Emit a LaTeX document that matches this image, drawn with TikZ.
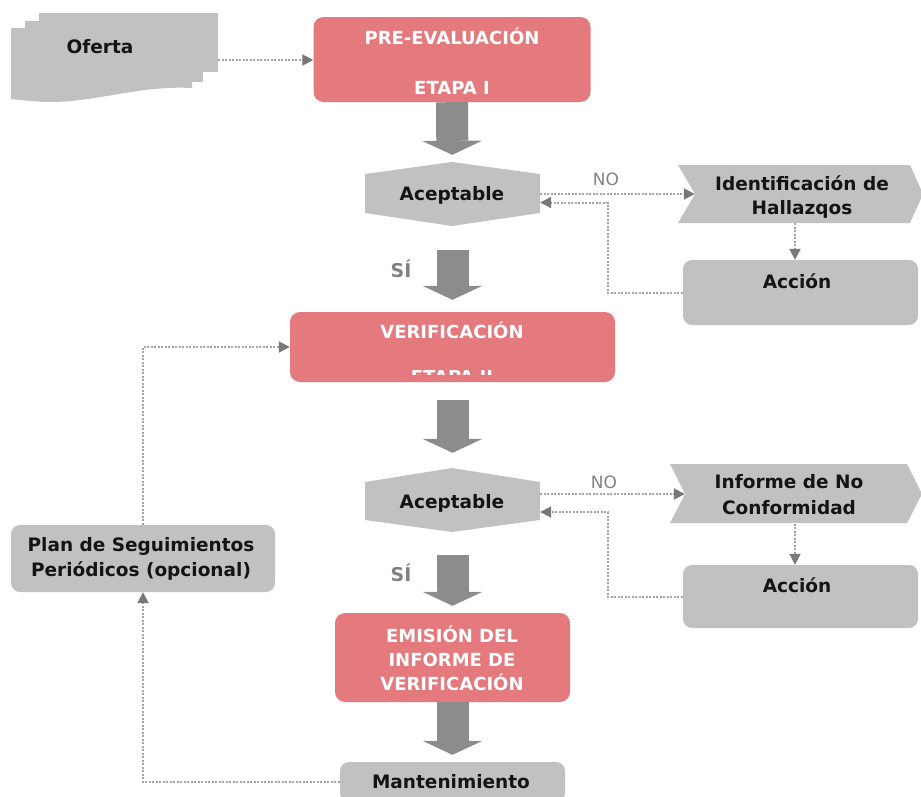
\documentclass[tikz,border=0pt]{standalone}
\usepackage{fontspec}
\setmainfont{DejaVu Sans}
\usetikzlibrary{arrows.meta,calc}
\definecolor{boxred}{RGB}{228,122,126}
\definecolor{boxgray}{RGB}{193,193,193}
\definecolor{fatgray}{RGB}{140,140,140}
\definecolor{dotgray}{RGB}{165,165,165}
\definecolor{tipgray}{RGB}{120,120,120}
\definecolor{labelgray}{RGB}{130,130,130}
\definecolor{inkblack}{RGB}{20,20,20}
\begin{document}
\begin{tikzpicture}[x=1pt,y=-1pt,
  redbox/.style={fill=boxred, rounded corners=10pt, inner sep=0pt},
  graybox/.style={fill=boxgray, rounded corners=9pt, inner sep=0pt},
  ghost/.style={inner sep=0pt},
  redtext/.style={text=white, inner sep=0pt, font=\fontsize{18}{24}\selectfont\bfseries},
  blacktext/.style={text=inkblack, inner sep=0pt, font=\fontsize{18.5}{25}\selectfont\bfseries},
  notag/.style={text=labelgray, inner sep=0pt, font=\fontsize{17}{20}\selectfont},
  sitag/.style={text=labelgray, inner sep=0pt, font=\fontsize{19}{22}\selectfont\bfseries},
  dotline/.style={draw=dotgray, line width=2pt, dash pattern=on 2pt off 1.5pt,
    -{Triangle[length=11pt,width=11pt,color=tipgray]}},
  fatarrow/.style={draw=fatgray, line width=32pt,
    -{Triangle[length=14pt,width=60pt,line width=0pt]}},
]
\useasboundingbox (0,0) rectangle (921,796);

% ---------- Oferta: stack of documents ----------
\fill[boxgray] (39,13) rectangle (218,72);
\fill[boxgray] (25,21) rectangle (203,82);
\fill[boxgray] (11,28) -- (192,28) -- (192,88)
  .. controls (150,86) and (120,95) .. (80,100)
  .. controls (50,104) and (30,101) .. (11,99) -- cycle;
\node[ghost, minimum width=207pt, minimum height=90pt] (oferta) at (114.5,60) {};
\node[blacktext, anchor=base] (oferta-t) at (100,53) {Oferta};

% ---------- Stage I ----------
\node[redbox, minimum width=277pt, minimum height=85pt] (pre) at (452,59.5) {};
\node[redtext, anchor=base] (pre-t1) at (452,44) {PRE-EVALUACIÓN};
\node[redtext, anchor=base] (pre-t2) at (452,94) {ETAPA I};

% first decision
\fill[boxgray] (365,174) -- (452,162) -- (540,174) -- (540,213) -- (452,226) -- (365,213) -- cycle;
\node[ghost, minimum width=175pt, minimum height=39pt] (acc1) at (452.5,193.5) {};
\node[blacktext, anchor=base] (acc1-t) at (452,200) {Aceptable};

% findings
\fill[boxgray] (678,165) -- (910,165) -- (923,194) -- (910,223) -- (678,223) -- (695,194) -- cycle;
\node[ghost, minimum width=200pt, minimum height=58pt] (id1) at (795,194) {};
\node[blacktext, anchor=base] (id1-t1) at (802,190) {Identificación de};
\node[blacktext, anchor=base] (id1-t2) at (802,214) {Hallazqos};

\node[graybox, minimum width=235pt, minimum height=65pt] (act1) at (800.5,292.5) {};
\node[blacktext, anchor=base] (act1-t) at (797,288) {Acción};

% ---------- Stage II ----------
\node[redbox, minimum width=325pt, minimum height=70pt] (ver) at (452.5,347) {};
\node[redtext, anchor=base] (ver-t1) at (452,338) {VERIFICACIÓN};
% stage label: only the top strip of the letters shows
\begin{scope}
  \clip (370,370) rectangle (530,374);
  \node[redtext, anchor=north] (ver-t2) at (452,370) {ETAPA II};
\end{scope}

% second decision
\fill[boxgray] (365,482) -- (452,468) -- (540,482) -- (540,520) -- (452,532) -- (365,520) -- cycle;
\node[ghost, minimum width=175pt, minimum height=38pt] (acc2) at (452.5,501) {};
\node[blacktext, anchor=base] (acc2-t) at (452,508) {Aceptable};

% non-conformity report
\fill[boxgray] (670,464) -- (907,464) -- (922,494) -- (907,523) -- (670,523) -- (685,494) -- cycle;
\node[ghost, minimum width=220pt, minimum height=59pt] (id2) at (795,494) {};
\node[blacktext, anchor=base] (id2-t1) at (789,488) {Informe de No};
\node[blacktext, anchor=base] (id2-t2) at (789,514) {Conformidad};

\node[graybox, minimum width=235pt, minimum height=63pt] (act2) at (800.5,596.5) {};
\node[blacktext, anchor=base] (act2-t) at (797,592) {Acción};

% ---------- report and follow-up ----------
\node[redbox, minimum width=235pt, minimum height=89pt] (emi) at (452.5,657.5) {};
\node[redtext, anchor=base] (emi-t1) at (452,642) {EMISIÓN DEL};
\node[redtext, anchor=base] (emi-t2) at (452,666) {INFORME DE};
\node[redtext, anchor=base] (emi-t3) at (452,690) {VERIFICACIÓN};

\node[graybox, minimum width=225pt, minimum height=40pt] (man) at (452.5,782) {};
\node[blacktext, anchor=base] (man-t) at (451,788) {Mantenimiento};

\node[graybox, minimum width=264pt, minimum height=67pt] (plan) at (143,558.5) {};
\node[blacktext, anchor=base] (plan-t1) at (141,551) {Plan de Seguimientos};
\node[blacktext, anchor=base] (plan-t2) at (141,576) {Periódicos (opcional)};

% ---------- main flow arrows ----------
\draw[fatarrow, shorten >=19pt] (pre.south) -- (acc1.north);
\draw[fatarrow, shorten <=37pt, shorten >=12pt] (acc1.south) -- (ver.north);
\draw[fatarrow, shorten <=18pt, shorten >=29pt] (ver.south) -- (acc2.north);
\draw[fatarrow, shorten <=35pt, shorten >=7pt] (acc2.south) -- (emi.north);
\draw[fatarrow, shorten >=7pt] (emi.south) -- (man.north);

\node[sitag, anchor=base] (si1) at (401,277) {SÍ};
\node[sitag, anchor=base] (si2) at (401,581) {SÍ};

% ---------- dotted side flows ----------
\draw[dotline] (oferta.east) -- (oferta.east -| pre.west);

\draw[dotline] (acc1.east |- id1.west) -- (id1.west);
\node[notag, anchor=base] (no1) at (606,185) {NO};
\draw[dotline] (id1.south) -- (id1.south |- act1.north);
\draw[dotline] (act1.west) -- ++(-75,0) |- ($(acc1.east)+(0,9)$);

\draw[dotline] (acc2.east |- id2.west) -- (id2.west);
\node[notag, anchor=base] (no2) at (604,488) {NO};
\draw[dotline] (id2.south) -- (id2.south |- act2.north);
\draw[dotline] (act2.west) -- ++(-75,0) |- ($(acc2.east)+(0,11)$);

\draw[dotline] (man.west) -| (plan.south);
\draw[dotline] (plan.north) |- (ver.west);
\end{tikzpicture}
\end{document}
